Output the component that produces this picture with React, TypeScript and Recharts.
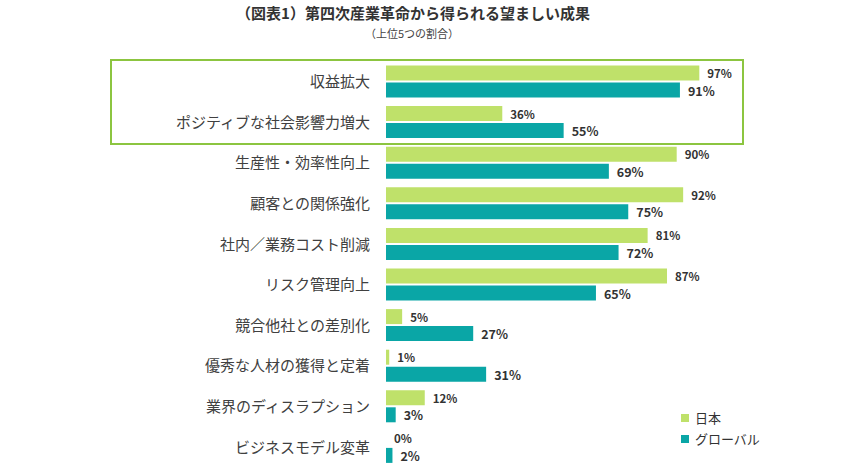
import React from "react";
import { BarChart, Bar, XAxis, YAxis } from "recharts";

const CATEGORIES = [
  "収益拡大",
  "ポジティブな社会影響力増大",
  "生産性・効率性向上",
  "顧客との関係強化",
  "社内／業務コスト削減",
  "リスク管理向上",
  "競合他社との差別化",
  "優秀な人材の獲得と定着",
  "業界のディスラプション",
  "ビジネスモデル変革",
];
const JAPAN = [97, 36, 90, 92, 81, 87, 5, 1, 12, 0];
const GLOBAL = [91, 55, 69, 75, 72, 65, 27, 31, 3, 2];

const JAPAN_COLOR = "#bfe16a";
const GLOBAL_COLOR = "#0aa6a6";
const FONT = '"Noto Sans CJK JP", "Noto Sans", sans-serif';
const BAR_SIZE = 15;
const BAR_GAP = 2;

const data = CATEGORIES.map((name, i) => ({
  name,
  japan: JAPAN[i],
  global: GLOBAL[i],
}));

const legendItems = [
  { label: "日本", color: JAPAN_COLOR },
  { label: "グローバル", color: GLOBAL_COLOR },
];

const labelText = (x: number, y: number, fontSize: number, value: any, key?: string) => (
  <text
    key={key}
    x={x}
    y={y}
    dominantBaseline="central"
    fill="#333"
    fontSize={fontSize}
    fontWeight={600}
    fontFamily={FONT}
  >
    {`${value}%`}
  </text>
);

const japanLabel = (props: any) => {
  const { x, y, width, height, value } = props;
  return labelText(Number(x) + Number(width || 0) + 8, Number(y) + Number(height) / 2, 11.5, value);
};

// recharts drops zero-width bars along with their labels, so the global
// label also writes the japan "0%" one row above when needed
const globalLabel = (props: any) => {
  const { x, y, width, height, value, index } = props;
  const cy = Number(y) + Number(height) / 2;
  const own = labelText(Number(x) + Number(width || 0) + 8, cy, 12.5, value, "g");
  if (JAPAN[index] !== 0) return own;
  return (
    <g>
      {labelText(Number(x) + 8, cy - BAR_SIZE - BAR_GAP, 11.5, JAPAN[index], "j")}
      {own}
    </g>
  );
};

export default function App() {
  return (
    <div
      style={{
        position: "absolute",
        left: 0,
        top: 0,
        width: 850,
        height: 470,
        background: "#fff",
        fontFamily: FONT,
      }}
    >
      <div
        style={{
          position: "absolute",
          left: 0,
          width: 826,
          top: 3,
          textAlign: "center",
          fontSize: 15,
          fontWeight: 700,
          color: "#333",
          lineHeight: "20px",
        }}
      >
        （図表1）第四次産業革命から得られる望ましい成果
      </div>
      <div
        style={{
          position: "absolute",
          left: 0,
          width: 824,
          top: 25,
          textAlign: "center",
          fontSize: 11,
          color: "#444",
          lineHeight: "16px",
        }}
      >
        （上位5つの割合）
      </div>

      <BarChart
        width={850}
        height={470}
        data={data}
        layout="vertical"
        margin={{ top: 61.5, right: 141, bottom: 2.5, left: 0 }}
        barSize={BAR_SIZE}
        barGap={BAR_GAP}
      >
        <XAxis type="number" domain={[0, 100]} hide />
        <YAxis
          type="category"
          dataKey="name"
          width={386}
          axisLine={false}
          tickLine={false}
          tickSize={0}
          tickMargin={16}
          interval={0}
          tick={{ fill: "#404040", fontSize: 15, fontFamily: FONT }}
        />
        <Bar dataKey="japan" fill={JAPAN_COLOR} isAnimationActive={false} label={japanLabel} />
        <Bar dataKey="global" fill={GLOBAL_COLOR} isAnimationActive={false} label={globalLabel} />
      </BarChart>

      {/* highlight box round the first two rows */}
      <div
        style={{
          position: "absolute",
          left: 110,
          top: 59,
          width: 630,
          height: 82,
          border: "2px solid #8cc540",
          pointerEvents: "none",
        }}
      />

      <div style={{ position: "absolute", left: 681, top: 407 }}>
        {legendItems.map((item) => (
          <div
            key={item.label}
            style={{
              display: "flex",
              alignItems: "center",
              height: 21,
              fontSize: 13,
              color: "#333",
            }}
          >
            <span
              style={{
                display: "inline-block",
                width: 8,
                height: 8,
                background: item.color,
                marginRight: 6,
              }}
            />
            {item.label}
          </div>
        ))}
      </div>
    </div>
  );
}
